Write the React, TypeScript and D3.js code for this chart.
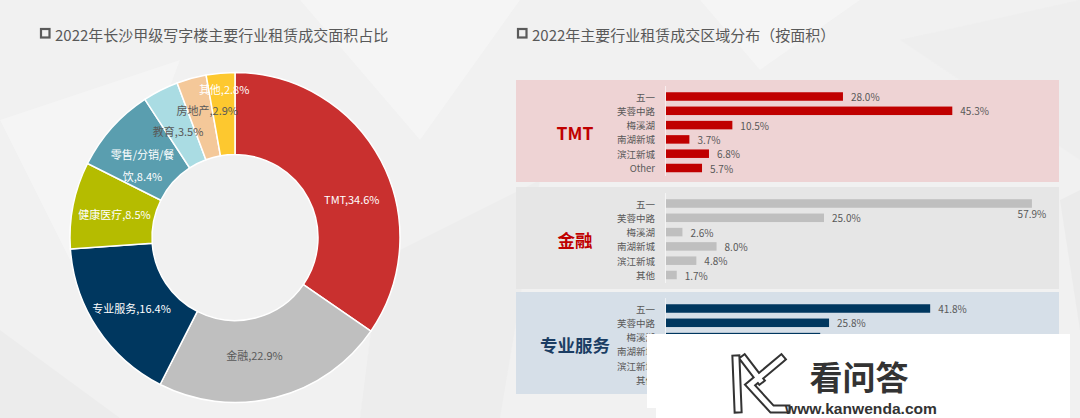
import React from "react";
import * as d3 from "d3";

const W = 1080;
const H = 418;

// ---- Donut data ----
const industries = ["TMT", "金融", "专业服务", "健康医疗", "零售/分销/餐饮", "教育", "房地产", "其他"];
const shares = [34.6, 22.9, 16.4, 8.5, 8.4, 3.5, 2.9, 2.8];
const sliceColors = ["#C9302F", "#BFBFBF", "#00375F", "#B5BC00", "#5A9EAF", "#AADCE3", "#F4C899", "#FDC82F"];
const sliceLabelColors = ["#ffffff", "#595959", "#ffffff", "#ffffff", "#ffffff", "#595959", "#595959", "#ffffff"];
const labelWrapAt = [0, 0, 0, 0, 7, 0, 0, 0];
const labelNudge: [number, number][] = [[7, 19], [-11, -3], [0, 2], [1, 1], [0, 10], [-1, 4], [5, -8], [0, -25]];

// ---- Bar panels data ----
const tmtRegions = ["五一", "芙蓉中路", "梅溪湖", "南湖新城", "滨江新城", "Other"];
const tmtValues = [28.0, 45.3, 10.5, 3.7, 6.8, 5.7];
const financeRegions = ["五一", "芙蓉中路", "梅溪湖", "南湖新城", "滨江新城", "其他"];
const financeValues = [57.9, 25.0, 2.6, 8.0, 4.8, 1.7];
const profRegions = ["五一", "芙蓉中路", "梅溪湖", "南湖新城", "滨江新城", "其他"];
const profValues = [41.8, 25.8, 24.4, 3.1, 3.4, 1.5];

const panelNames = ["TMT", "金融", "专业服务"];
const panelRegions = [tmtRegions, financeRegions, profRegions];
const panelValues = [tmtValues, financeValues, profValues];

const titleLeft = "2022年长沙甲级写字楼主要行业租赁成交面积占比";
const titleRight = "2022年主要行业租赁成交区域分布（按面积）";

const FONT = "'Noto Sans CJK SC', 'Noto Sans', sans-serif";

const panelStyles = [
  { bg: "#EED3D4", bar: "#C00000", label: "#C00000" },
  { bg: "#E6E6E6", bar: "#BFBFBF", label: "#C00000" },
  { bg: "#D6DFE8", bar: "#00375F", label: "#1B3D63" },
];

export default function App() {
  // Donut
  const cx = 235, cy = 237.5;
  const pie = d3.pie<number>().sort(null).value((d) => d);
  const arcs = pie(shares);
  const arc = d3.arc<d3.PieArcDatum<number>>().innerRadius(83).outerRadius(165);

  // Bars
  const panelLeft = 516, panelRight = 1059, panelH = 102;
  const panelTops = [80, 187, 292];
  const x = d3.scaleLinear().domain([0, 60]).range([666, 666 + 6.32 * 60]);
  const barH = 8.5;

  return (
    <svg
      width={W}
      height={H}
      viewBox={`0 0 ${W} ${H}`}
      style={{ position: "absolute", left: 0, top: 0, fontFamily: FONT }}
    >
      <rect x={0} y={0} width={W} height={H} fill="#F1F1F1" />
      {/* faint background geometry */}
      <polygon points="0,120 180,60 90,300" fill="#F7F7F7" opacity={0.7} />
      <polygon points="300,0 520,0 420,140" fill="#F6F6F6" opacity={0.7} />
      <polygon points="380,260 540,180 500,418 360,418" fill="#EBEBEB" opacity={0.6} />
      <polygon points="0,330 120,418 0,418" fill="#EAEAEA" opacity={0.6} />
      <polygon points="700,0 860,0 760,70" fill="#F7F7F7" opacity={0.7} />
      <polygon points="900,40 1080,0 1080,160" fill="#EDEDED" opacity={0.6} />
      <polygon points="1060,200 1080,190 1080,330" fill="#E8E8E8" opacity={0.7} />

      {/* Titles */}
      <rect x={41} y={29} width={8.5} height={8.5} fill="none" stroke="#5A5A5A" strokeWidth={2.2} />
      <text x={55} y={34} dominantBaseline="central" fontSize={15} fill="#595959">{titleLeft}</text>
      <rect x={518} y={29} width={8.5} height={8.5} fill="none" stroke="#5A5A5A" strokeWidth={2.2} />
      <text x={532} y={34} dominantBaseline="central" fontSize={15} fill="#595959">{titleRight}</text>

      {/* Donut */}
      <g transform={`translate(${cx},${cy})`}>
        {arcs.map((a, i) => (
          <path key={i} d={arc(a) || ""} fill={sliceColors[i]} stroke="#ffffff" strokeWidth={1.5} />
        ))}
        {arcs.map((a, i) => {
          const [px, py] = arc.centroid(a);
          const full = `${industries[i]},${shares[i].toFixed(1)}%`;
          const lines = labelWrapAt[i] ? [full.slice(0, labelWrapAt[i]), full.slice(labelWrapAt[i])] : [full];
          const lx = px + labelNudge[i][0];
          const ly = py + labelNudge[i][1];
          const lh = 21.5;
          return (
            <text key={i} x={lx} y={ly} textAnchor="middle" fontSize={11} fill={sliceLabelColors[i]}>
              {lines.map((l, j) => (
                <tspan key={j} x={lx} y={ly + (j - (lines.length - 1) / 2) * lh} dominantBaseline="central">{l}</tspan>
              ))}
            </text>
          );
        })}
      </g>

      {/* Bar panels */}
      {panelNames.map((name, p) => {
        const top = panelTops[p];
        const y = d3.scalePoint<number>().domain(d3.range(6)).range([top + 16.5, top + 16.5 + 5 * 14.3]);
        const st = panelStyles[p];
        return (
          <g key={p}>
            <rect x={panelLeft} y={top} width={panelRight - panelLeft} height={panelH} fill={st.bg} />
            <line x1={x(0) - 0.5} x2={x(0) - 0.5} y1={top + 6} y2={top + panelH - 6} stroke="#ffffff" strokeOpacity={0.6} strokeWidth={1} />
            <text x={575} y={top + panelH / 2 + 1} textAnchor="middle" dominantBaseline="central" fontSize={17.5} fontWeight={600} fill={st.label}>{name}</text>
            {panelRegions[p].map((r, i) => {
              const v = panelValues[p][i];
              const yc = y(i)!;
              const xe = x(v);
              const below = xe + 40 > panelRight;
              return (
                <g key={i}>
                  <text x={655} y={yc} textAnchor="end" dominantBaseline="central" fontSize={9.5} fill="#595959">{r}</text>
                  <rect x={x(0)} y={yc - barH / 2} width={xe - x(0)} height={barH} fill={st.bar} />
                  <text
                    x={below ? xe : xe + 8}
                    y={below ? yc + 10 : yc}
                    textAnchor={below ? "middle" : "start"}
                    dominantBaseline="central"
                    fontSize={10}
                    fill="#595959"
                  >{`${v.toFixed(1)}%`}</text>
                </g>
              );
            })}
          </g>
        );
      })}

      {/* Watermark */}
      <rect x={647} y={334} width={W - 647 - 10} height={74} fill="#ffffff" />
      <rect x={656} y={408} width={W - 656 - 10} height={10} fill="#ffffff" />
      <g fill="none" strokeLinejoin="miter" strokeLinecap="square">
        <path d="M736,359 L738,409 M781,359 L750,385 L772,409 L786,409 M744,359 L760,380" stroke="#333" strokeWidth={9} />
        <path d="M736,359 L738,409 M781,359 L750,385 L772,409 L786,409 M744,359 L760,380" stroke="#fff" strokeWidth={5} />
      </g>
      <text x={859} y={376} textAnchor="middle" dominantBaseline="central" fontSize={33} fontWeight={700} fill="#333" fontFamily="'Noto Sans CJK SC', sans-serif">看问答</text>
      <text x={785} y={408.5} dominantBaseline="central" fontSize={15} fontWeight={700} fill="#333" textLength={152} lengthAdjust="spacingAndGlyphs" fontFamily="'Liberation Sans', Arial, sans-serif">www.kanwenda.com</text>
    </svg>
  );
}
